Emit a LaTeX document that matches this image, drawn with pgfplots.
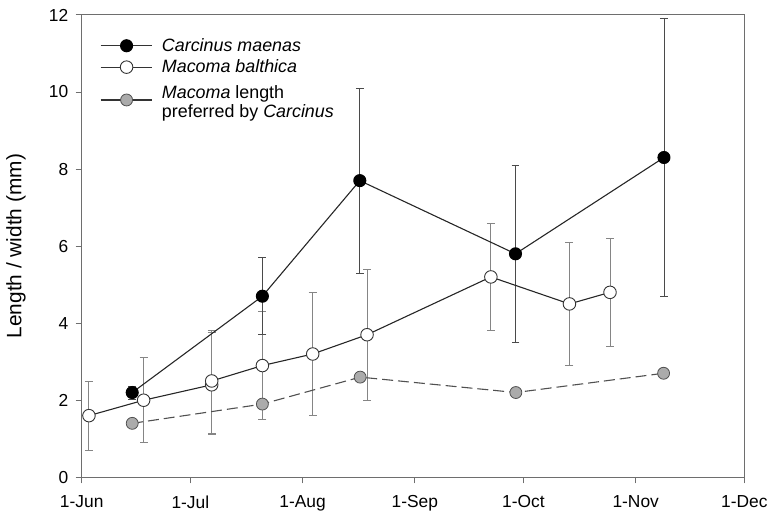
\documentclass[border=0pt]{standalone}
\usepackage{fontspec}
\setmainfont{Liberation Sans}
\usepackage{pgfplots}
\pgfplotsset{compat=1.18}
\usepackage{pgfplotstable}

% day of season, counted from 1 June
\pgfplotstableread{
x     y    ep    em
2.0   1.6  0.9   0.9
17.1  2.0  1.1   1.1
35.9  2.4  1.35  1.3
35.9  2.5  1.3   1.35
49.9  2.9  1.4   1.4
63.8  3.2  1.6   1.6
78.8  3.7  1.7   1.7
113.0 5.2  1.4   1.4
134.7 4.5  1.6   1.6
145.9 4.8  1.4   1.4
}\macoma

\pgfplotstableread{
x     y    ep    em
13.95 2.2  0.17  0.17
49.9  4.7  1.0   1.0
76.8  7.7  2.4   2.4
119.8 5.8  2.3   2.3
160.8 8.3  3.6   3.6
}\carcinus

\pgfplotstableread{
x     y
13.95 1.4
49.9  1.9
76.9  2.6
119.9 2.2
160.7 2.7
}\preferred

\definecolor{axisgray}{HTML}{6E6E6E}
\definecolor{bargray}{HTML}{858585}
\definecolor{bardark}{HTML}{4A4A4A}
\definecolor{prefgray}{HTML}{ABABAB}
\definecolor{dashgray}{HTML}{505050}

\begin{document}
\begin{tikzpicture}
\begin{axis}[
  scale only axis,
  width=665bp, height=464bp,
  xmin=0, xmax=183, ymin=0, ymax=12,
  axis line style={axisgray, line width=0.9bp},
  xtick={0,30,61,92,122,153,183},
  xticklabels={1-Jun,1-Jul,1-Aug,1-Sep,1-Oct,1-Nov,1-Dec},
  ytick={0,2,...,12},
  xtick pos=bottom, ytick pos=left,
  tick align=outside,
  major tick length=6bp,
  tick style={axisgray, line width=0.9bp},
  /pgf/number format/assume math mode=true,
  tick label style={font=\fontsize{17.5}{20}\selectfont},
  xticklabel style={yshift=-9bp, inner xsep=0.5bp},
  yticklabel style={xshift=-4bp},
  ylabel={Length / width (mm)},
  ylabel style={font=\fontsize{21}{24}\selectfont,
    at={(axis description cs:-0.0992,0.5)}, anchor=center},
  clip=false,
  legend style={
    at={(0.023,0.958)}, anchor=north west,
    draw=none, fill=none,
    font=\fontsize{18}{18.5}\selectfont,
    cells={align=left, anchor=west},
    row sep=3bp,
    /tikz/every odd column/.append style={column sep=7bp},
  },
  legend image code/.code={%
    \draw[mark repeat=2, mark phase=2, #1]
      plot coordinates {(0bp,0bp) (26bp,0bp) (52bp,0bp)};},
]

% error bars first, so that the markers sit on top of them
\addplot[only marks, mark=none, forget plot, bargray,
  error bars/.cd, y dir=both, y explicit,
  error bar style={line width=0.9bp, bargray},
  error mark options={rotate=90, mark size=4bp, line width=0.9bp, bargray}]
  table[x=x, y=y, y error plus=ep, y error minus=em]{\macoma};
\addplot[only marks, mark=none, forget plot, bardark,
  error bars/.cd, y dir=both, y explicit,
  error bar style={line width=0.9bp, bardark},
  error mark options={rotate=90, mark size=4bp, line width=0.9bp, bardark}]
  table[x=x, y=y, y error plus=ep, y error minus=em]{\carcinus};

% preferred prey length (dashed)
\addplot[dashgray, line width=1.1bp, dash pattern=on 11bp off 5bp, forget plot,
  mark=*, mark size=6bp,
  mark options={solid, fill=prefgray, draw=dashgray, line width=0.8bp}]
  table[x=x, y=y]{\preferred};

% Macoma balthica
\addplot[black!85, line width=1.1bp, forget plot,
  mark=*, mark size=6.3bp,
  mark options={fill=white, draw=black!80, line width=0.9bp}]
  table[x=x, y=y]{\macoma};

% Carcinus maenas
\addplot[black!85, line width=1.1bp, forget plot,
  mark=*, mark size=6bp,
  mark options={fill=black, draw=black}]
  table[x=x, y=y]{\carcinus};

\addlegendimage{black!80, line width=1.1bp, mark=*, mark size=6bp,
  mark options={fill=black, draw=black}}
\addlegendentry{\textit{Carcinus maenas}}
\addlegendimage{black!80, line width=1.1bp, mark=*, mark size=6.3bp,
  mark options={fill=white, draw=black!80, line width=0.9bp}}
\addlegendentry{\textit{Macoma balthica}}
\addlegendimage{black!80, line width=1.1bp, mark=*, mark size=6bp,
  mark options={fill=prefgray, draw=dashgray, line width=0.8bp}}
\addlegendentry{\rule{0pt}{17.5bp}\textit{Macoma} length\\preferred by \textit{Carcinus}}

\coordinate (lowleft) at (rel axis cs:0,0);
\coordinate (upright) at (rel axis cs:1,1);
\end{axis}
% white margin round the plot
\path ([shift={(-82bp,-38bp)}]lowleft) rectangle ([shift={(21bp,15bp)}]upright);
\end{tikzpicture}
\end{document}
